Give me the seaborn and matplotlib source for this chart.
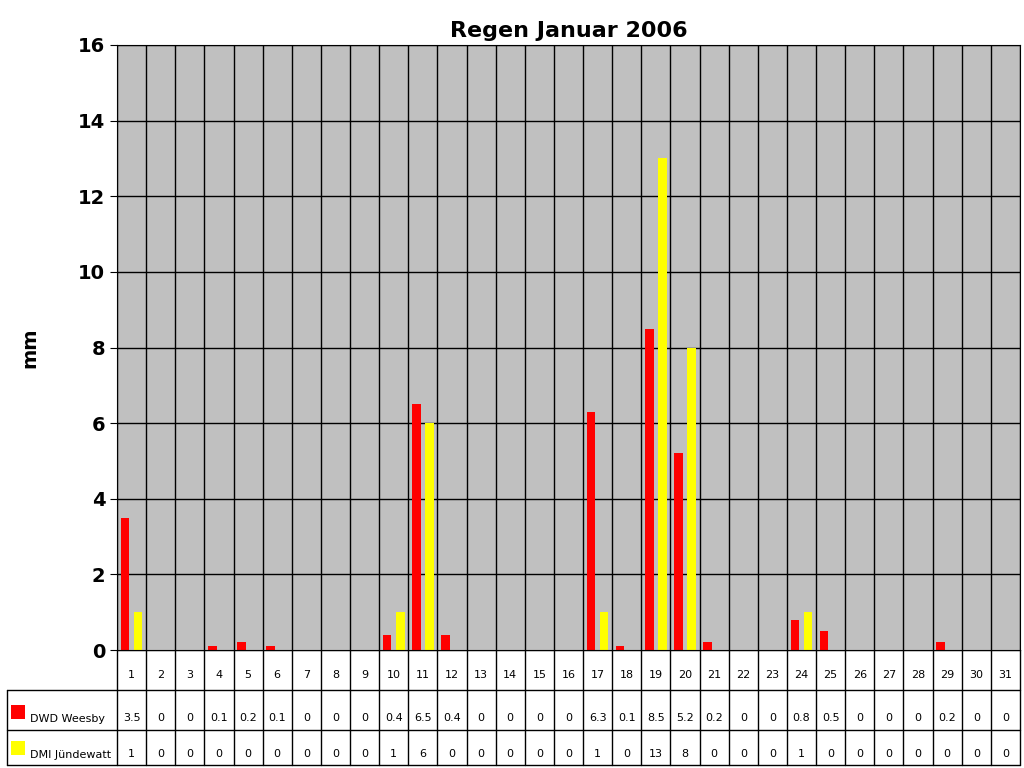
import numpy as np
import pandas as pd
import matplotlib
matplotlib.use("Agg")
import matplotlib.pyplot as plt
import seaborn as sns

days = list(range(1, 32))
dwd_weesby = [3.5, 0, 0, 0.1, 0.2, 0.1, 0, 0, 0, 0.4, 6.5, 0.4, 0, 0, 0, 0,
              6.3, 0.1, 8.5, 5.2, 0.2, 0, 0, 0.8, 0.5, 0, 0, 0, 0.2, 0, 0]
dmi_juendewatt = [1, 0, 0, 0, 0, 0, 0, 0, 0, 1, 6, 0, 0, 0, 0, 0,
                  1, 0, 13, 8, 0, 0, 0, 1, 0, 0, 0, 0, 0, 0, 0]
series_names = ["DWD Weesby", "DMI Jündewatt"]
colors = ["#FF0000", "#FFFF00"]

df = pd.DataFrame({
    "day": days * 2,
    "mm": dwd_weesby + dmi_juendewatt,
    "station": [series_names[0]] * 31 + [series_names[1]] * 31,
})

sns.set_style("white")
plt.rcParams["font.family"] = ["DejaVu Sans"]
plt.rcParams["text.color"] = "black"
plt.rcParams["axes.labelcolor"] = "black"
plt.rcParams["ytick.color"] = "black"

W, H = 1024, 768
fig = plt.figure(figsize=(W / 100, H / 100), dpi=100)

# plot area in pixels
x0, x1, ytop, ybot = 117, 1020, 45, 650
ax = fig.add_axes([x0 / W, (H - ybot) / H, (x1 - x0) / W, (ybot - ytop) / H])
ax.set_facecolor("#C0C0C0")
sns.barplot(data=df, x="day", y="mm", hue="station", palette=colors,
            width=0.9, gap=0.35, ax=ax, legend=False, saturation=1, linewidth=0)
ax.set_xlim(-0.5, 30.5)
ax.set_ylim(0, 16)
ax.set_yticks(range(0, 17, 2))
ax.set_yticklabels([str(v) for v in range(0, 17, 2)], fontsize=14, fontweight="bold")
ax.set_xticks([])
ax.set_xlabel("")
ax.set_ylabel("mm", fontsize=14, fontweight="bold", labelpad=28)
for v in range(2, 17, 2):
    ax.axhline(v, color="black", lw=1, zorder=0.5)
for i in range(32):
    ax.axvline(i - 0.5, color="black", lw=1, zorder=0.5)
for s in ax.spines.values():
    s.set_color("black")
ax.tick_params(axis="y", length=5, color="black", direction="out", left=True)
ax.set_title("Regen Januar 2006", fontsize=16, fontweight="bold", pad=6, color="black")

# data table below
tax = fig.add_axes([0, 0, 1, (H - ybot) / H])
tax.set_xlim(0, W)
tax.set_ylim(H, ybot)
tax.axis("off")
cw = (x1 - x0) / 31
rows = [650, 690, 730, 765]
lk = dict(color="black", lw=1)
tax.plot([x0, x1], [rows[0], rows[0]], **lk)
tax.plot([7, x1], [rows[1], rows[1]], **lk)
tax.plot([7, x1], [rows[2], rows[2]], **lk)
tax.plot([7, x1], [rows[3], rows[3]], **lk)
tax.plot([7, 7], [rows[1], rows[3]], **lk)
for i in range(32):
    xx = x0 + i * cw
    tax.plot([xx, xx], [rows[0], rows[3]], **lk)
for i in range(31):
    cx = x0 + (i + 0.5) * cw
    tax.text(cx, 675, str(days[i]), ha="center", va="center", fontsize=8)
    tax.text(cx, 718, f"{dwd_weesby[i]:g}", ha="center", va="center", fontsize=8)
    tax.text(cx, 754, f"{dmi_juendewatt[i]:g}", ha="center", va="center", fontsize=8)
for j, (name, c, ty) in enumerate(zip(series_names, colors, [718, 754])):
    tax.add_patch(plt.Rectangle((11, ty - 13), 14, 14, facecolor=c, edgecolor="none"))
    tax.text(30, ty + 1, name, ha="left", va="center", fontsize=8)

fig.savefig("out.png", dpi=100)
